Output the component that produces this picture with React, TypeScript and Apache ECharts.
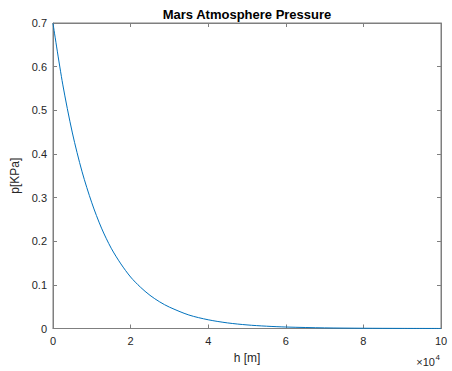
import React, { useEffect, useRef } from "react";
import * as echarts from "echarts";

const heights: number[] = [
  0, 2500, 5000, 7500, 10000, 12500, 15000, 17500, 20000, 22500, 25000, 27500,
  30000, 35000, 40000, 45000, 50000, 55000, 60000, 70000, 80000, 90000, 100000,
];
const pressures: number[] = [
  0.699, 0.56, 0.448, 0.359, 0.288, 0.23, 0.184, 0.148, 0.118, 0.095, 0.076,
  0.061, 0.049, 0.031, 0.02, 0.0128, 0.0082, 0.0053, 0.0034, 0.0014, 0.0006,
  0.00023, 0.0001,
];
const titleText = "Mars Atmosphere Pressure";
const xName = "h [m]";
const yName = "p[KPa]";

const FONT = "'Liberation Sans', Arial, Helvetica, sans-serif";
const TEXT = "#262626";
const LINE = "#7f7f7f";

export default function App() {
  const ref = useRef<HTMLDivElement>(null);
  useEffect(() => {
    if (!ref.current) return;
    const chart = echarts.init(ref.current, null, { renderer: "svg" });
    const axisCommon = {
      show: true,
      axisLine: { show: true, onZero: false, lineStyle: { color: LINE, width: 1 } },
      axisTick: { show: true, inside: true, length: 4, lineStyle: { color: LINE } },
      splitLine: { show: false },
    };
    chart.setOption({
      animation: false,
      backgroundColor: "#ffffff",
      grid: {
        left: 53,
        right: 11,
        top: 23,
        bottom: 42.5,
        containLabel: false,
        show: true,
        borderColor: LINE,
        borderWidth: 1,
      },
      graphic: [
        {
          type: "text",
          x: 247,
          y: 14,
          style: {
            text: titleText,
            fontSize: 13,
            fontWeight: "bold",
            fontFamily: FONT,
            fill: "#000",
            align: "center",
            verticalAlign: "middle",
          },
        },
        {
          type: "text",
          x: 435,
          y: 362,
          style: {
            text: "×10",
            fontSize: 11,
            fontFamily: FONT,
            fill: TEXT,
            align: "right",
            verticalAlign: "middle",
          },
        },
        {
          type: "text",
          x: 435.5,
          y: 357,
          style: {
            text: "4",
            fontSize: 8,
            fontFamily: FONT,
            fill: TEXT,
            align: "left",
            verticalAlign: "middle",
          },
        },
      ],
      xAxis: [
        {
          type: "value",
          min: 0,
          max: 100000,
          interval: 20000,
          name: xName,
          nameLocation: "middle",
          nameGap: 23,
          nameTextStyle: { fontSize: 12, fontFamily: FONT, color: TEXT },
          axisLabel: {
            fontSize: 11,
            fontFamily: FONT,
            color: TEXT,
            margin: 7,
            formatter: (v: number) => String(v / 10000),
          },
          ...axisCommon,
        },
        {
          type: "value",
          position: "top",
          min: 0,
          max: 100000,
          interval: 20000,
          ...axisCommon,
          axisLabel: { show: false },
        },
      ],
      yAxis: [
        {
          type: "value",
          min: 0,
          max: 0.7,
          interval: 0.1,
          name: yName,
          nameLocation: "middle",
          nameGap: 28,
          nameTextStyle: { fontSize: 12, fontFamily: FONT, color: TEXT },
          axisLabel: {
            fontSize: 11,
            fontFamily: FONT,
            color: TEXT,
            margin: 6,
            formatter: (v: number) => (v === 0 ? "0" : v.toFixed(1)),
          },
          ...axisCommon,
        },
        {
          type: "value",
          position: "right",
          min: 0,
          max: 0.7,
          interval: 0.1,
          ...axisCommon,
          axisLabel: { show: false },
        },
      ],
      series: [
        {
          type: "line",
          xAxisIndex: 0,
          yAxisIndex: 0,
          data: heights.map((h, i) => [h, pressures[i]]),
          smooth: 0.3,
          showSymbol: false,
          symbol: "none",
          lineStyle: { color: "#0072BD", width: 1 },
          clip: true,
        },
        {
          type: "line",
          xAxisIndex: 1,
          yAxisIndex: 1,
          data: [],
          symbol: "none",
          silent: true,
        },
      ],
    });
    return () => chart.dispose();
  }, []);
  return (
    <div
      ref={ref}
      style={{ position: "absolute", left: 0, top: 0, width: 452, height: 371 }}
    />
  );
}
